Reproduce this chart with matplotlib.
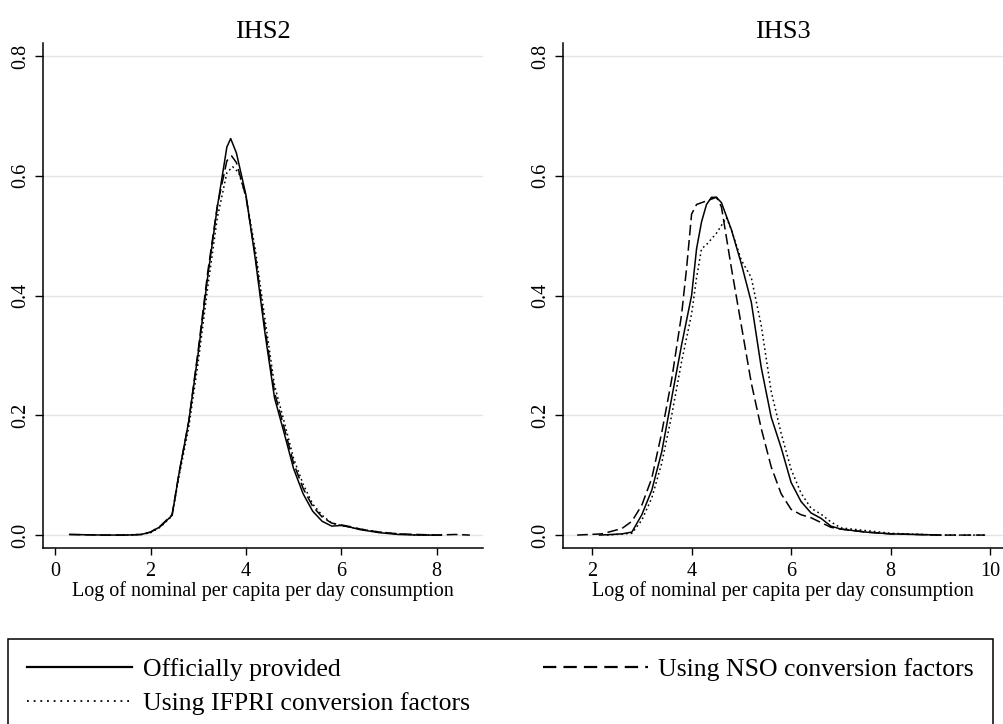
import matplotlib
matplotlib.use("Agg")
import matplotlib.pyplot as plt
from matplotlib.lines import Line2D
import numpy as np

plt.rcParams['font.family'] = ['Liberation Serif', 'DejaVu Serif']

# ---- values ----
panel_titles = ["IHS2", "IHS3"]
xlabel_text = "Log of nominal per capita per day consumption"
series_labels = ["Officially provided", "Using NSO conversion factors",
                 "Using IFPRI conversion factors"]
yticks = [0.0, 0.2, 0.4, 0.6, 0.8]
xticks_ihs2 = [0, 2, 4, 6, 8]
xticks_ihs3 = [2, 4, 6, 8, 10]

# IHS2
ihs2_off_x = [0.3, 1.0, 1.5, 1.8, 2.0, 2.2, 2.45, 2.6, 2.8, 3.0, 3.2, 3.4, 3.6, 3.68,
              3.8, 4.0, 4.2, 4.4, 4.6, 4.8, 5.0, 5.2, 5.4, 5.6, 5.8, 6.0, 6.2, 6.4,
              6.8, 7.2, 7.6, 8.1]
ihs2_off_y = [0.001, 0.0, 0.0, 0.001, 0.005, 0.014, 0.033, 0.105, 0.19, 0.305, 0.433,
              0.548, 0.648, 0.662, 0.638, 0.568, 0.459, 0.337, 0.229, 0.171, 0.111,
              0.069, 0.040, 0.023, 0.015, 0.016, 0.013, 0.009, 0.004, 0.001, 0.0, 0.0]

ihs2_nso_x = [0.3, 1.0, 1.5, 1.8, 2.0, 2.2, 2.45, 2.6, 2.8, 3.0, 3.2, 3.4, 3.6, 3.7,
              3.8, 4.0, 4.2, 4.4, 4.6, 4.8, 5.0, 5.2, 5.4, 5.6, 5.8, 6.0, 6.2, 6.4,
              6.8, 7.2, 7.6, 8.0, 8.4, 8.7]
ihs2_nso_y = [0.001, 0.0, 0.0, 0.001, 0.005, 0.015, 0.034, 0.105, 0.19, 0.31, 0.44,
              0.55, 0.625, 0.633, 0.622, 0.565, 0.465, 0.345, 0.238, 0.18, 0.12,
              0.078, 0.048, 0.03, 0.02, 0.017, 0.014, 0.01, 0.005, 0.002, 0.001,
              0.0, 0.001, 0.0]

ihs2_ifp_x = [1.3, 1.8, 2.0, 2.2, 2.45, 2.6, 2.8, 3.0, 3.2, 3.4, 3.6, 3.72, 3.85, 4.0,
              4.2, 4.4, 4.6, 4.8, 5.0, 5.2, 5.4, 5.6, 5.8, 6.0, 6.4, 6.8, 7.2, 7.6, 8.0]
ihs2_ifp_y = [0.0, 0.001, 0.004, 0.013, 0.032, 0.1, 0.18, 0.29, 0.415, 0.53, 0.605,
              0.615, 0.605, 0.565, 0.475, 0.36, 0.25, 0.19, 0.128, 0.085, 0.052,
              0.033, 0.02, 0.016, 0.01, 0.005, 0.002, 0.0, 0.0]

# IHS3
ihs3_off_x = [2.15, 2.4, 2.6, 2.8, 3.0, 3.2, 3.4, 3.6, 3.8, 4.0, 4.1, 4.2, 4.3, 4.4,
              4.5, 4.6, 4.8, 5.0, 5.2, 5.4, 5.6, 5.8, 6.0, 6.2, 6.4, 6.6, 6.8, 7.0,
              7.5, 8.0, 8.5, 9.0]
ihs3_off_y = [0.0, 0.001, 0.002, 0.005, 0.034, 0.075, 0.139, 0.229, 0.318, 0.40,
              0.478, 0.523, 0.552, 0.564, 0.564, 0.555, 0.51, 0.453, 0.389, 0.28,
              0.197, 0.146, 0.088, 0.056, 0.037, 0.028, 0.015, 0.010, 0.005, 0.002,
              0.001, 0.0]

ihs3_nso_x = [1.7, 2.2, 2.6, 2.8, 3.0, 3.2, 3.4, 3.6, 3.8, 3.9, 4.0, 4.1, 4.2, 4.4,
              4.5, 4.6, 4.7, 4.8, 5.0, 5.2, 5.4, 5.6, 5.8, 6.0, 6.2, 6.4, 6.6, 6.8,
              7.0, 7.5, 8.0, 9.0, 9.9]
ihs3_nso_y = [0.0, 0.002, 0.011, 0.023, 0.05, 0.095, 0.171, 0.26, 0.369, 0.446,
              0.536, 0.552, 0.555, 0.561, 0.564, 0.548, 0.497, 0.446, 0.35, 0.254,
              0.178, 0.114, 0.069, 0.043, 0.034, 0.029, 0.021, 0.013, 0.01, 0.005,
              0.002, 0.0, 0.0]

ihs3_ifp_x = [2.3, 2.8, 3.0, 3.2, 3.4, 3.6, 3.8, 4.0, 4.1, 4.2, 4.3, 4.5, 4.7, 4.8,
              5.0, 5.2, 5.4, 5.6, 5.8, 6.0, 6.2, 6.4, 6.6, 6.8, 7.0, 8.0, 9.0, 9.9]
ihs3_ifp_y = [0.0, 0.003, 0.025, 0.062, 0.12, 0.20, 0.29, 0.369, 0.43, 0.478, 0.485,
              0.504, 0.53, 0.51, 0.459, 0.43, 0.35, 0.24, 0.17, 0.11, 0.07, 0.045,
              0.035, 0.022, 0.012, 0.003, 0.0, 0.0]

# ---- styles ----
LW = 1.1
solid = dict(color='black', lw=LW, linestyle='-')
dashed = dict(color='black', lw=LW, linestyle=(0, (7, 3)))
dotted = dict(color='black', lw=LW, linestyle=(0, (1.1, 2.0)))

fig = plt.figure(figsize=(10.04, 7.24), dpi=100)
ax1 = fig.add_axes([0.0428, 0.243, 0.438, 0.6975])
ax2 = fig.add_axes([0.561, 0.243, 0.438, 0.6975])

panels = [
    (ax1, ihs2_off_x, ihs2_off_y, ihs2_nso_x, ihs2_nso_y, ihs2_ifp_x, ihs2_ifp_y,
     xticks_ihs2, (-0.26, 8.97)),
    (ax2, ihs3_off_x, ihs3_off_y, ihs3_nso_x, ihs3_nso_y, ihs3_ifp_x, ihs3_ifp_y,
     xticks_ihs3, (1.42, 10.26)),
]

for i, (ax, ox, oy, nx, ny, fx, fy, xt, xl) in enumerate(panels):
    ax.plot(fx, fy, **dotted)
    ax.plot(nx, ny, **dashed)
    ax.plot(ox, oy, **solid)

    ax.set_xlim(*xl)
    ax.set_ylim(-0.0217, 0.8215)
    ax.set_xticks(xt)
    ax.set_yticks(yticks)
    ax.set_yticklabels([f"{v:.1f}" for v in yticks])
    ax.grid(axis='y', color='#e4e4e4', lw=1.0)
    ax.set_axisbelow(True)
    for s in ['top', 'right']:
        ax.spines[s].set_visible(False)
    for s in ['left', 'bottom']:
        ax.spines[s].set_linewidth(1.1)
    ax.tick_params(axis='x', length=5, width=1.0, pad=5, labelsize=14.5)
    ax.tick_params(axis='y', length=6, width=1.0, pad=3, labelsize=14.5,
                   labelrotation=90)
    for lab in ax.get_yticklabels():
        lab.set_va('center')
    ax.set_title(panel_titles[i], fontsize=19, pad=4)
    ax.set_xlabel(xlabel_text, fontsize=14.5, labelpad=0)

# ---- legend ----
h_off = Line2D([], [], color='black', lw=1.6, linestyle='-')
h_nso = Line2D([], [], color='black', lw=1.6, linestyle=(0, (6, 3.2)))
h_ifp = Line2D([], [], color='black', lw=1.3, linestyle=(0, (1.0, 2.7)))
leg = fig.legend([h_off, h_ifp, h_nso],
                 [series_labels[0], series_labels[2], series_labels[1]],
                 ncol=2, loc='upper left', mode='expand',
                 bbox_to_anchor=(0.0076, 0.0, 0.9815, 1 - 639 / 724),
                 bbox_transform=fig.transFigure, borderaxespad=0,
                 fontsize=18.5, handlelength=4.1, handletextpad=0.4,
                 labelspacing=0.42, borderpad=0.75, fancybox=False,
                 edgecolor='black', framealpha=1)
leg.get_frame().set_linewidth(1.1)

fig.savefig("out.png", dpi=100)
